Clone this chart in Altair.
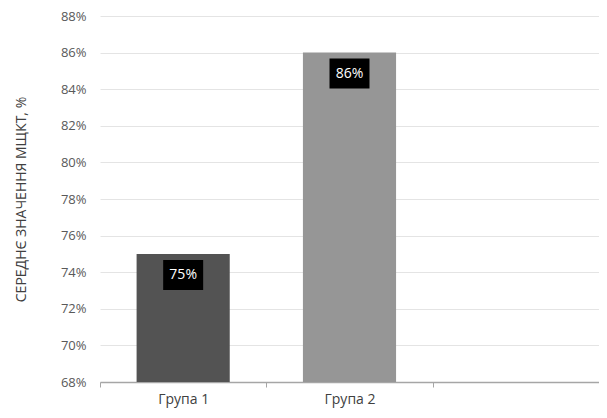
import altair as alt
import pandas as pd

groups = ["Група 1", "Група 2"]
values = [0.75, 0.86]
colors = ["#535353", "#969696"]
domain_x = ["Група 1", "Група 2", " "]
y_ticks = [0.68, 0.70, 0.72, 0.74, 0.76, 0.78, 0.80, 0.82, 0.84, 0.86, 0.88]

df = pd.DataFrame({"group": groups, "value": values, "color": colors})
df["label"] = [f"{round(v*100)}%" for v in values]

FONT = "Open Sans"

x = alt.X("group:N", scale=alt.Scale(domain=domain_x, paddingInner=0, paddingOuter=0),
          axis=alt.Axis(title=None, labelAngle=0, labelFontSize=14, labelColor="#404040",
                        labelPadding=5, tickBand="extent", tickSize=5, tickColor="#a6a6a6",
                        domainColor="#a6a6a6", domainWidth=1.5, labelFont=FONT, grid=False))
y = alt.Y("value:Q", scale=alt.Scale(domain=[0.68, 0.88], nice=False, zero=False),
          axis=alt.Axis(title="СЕРЕДНЄ ЗНАЧЕННЯ МЩКТ, %", format=".0%",
                        values=y_ticks,
                        labelFontSize=13, labelColor="#595959", labelFont=FONT,
                        titleFont=FONT, titleFontSize=14, titleFontWeight="normal",
                        titleColor="#404040", titlePadding=32, ticks=False, domain=False,
                        labelPadding=14, gridColor="#e4e4e4", gridWidth=1))

bars = alt.Chart(df).mark_bar(clip=True, width=alt.RelativeBandSize(0.56)).encode(
    x=x, y=y, y2=alt.datum(0.68), color=alt.Color("color:N", scale=None))

boxes = alt.Chart(df).mark_point(
    shape="M-1.333,-1L1.333,-1L1.333,1L-1.333,1Z", size=900, filled=True,
    color="black", opacity=1, yOffset=21).encode(x=x, y=y)

texts = alt.Chart(df).mark_text(color="white", fontSize=14, font=FONT, dy=21,
                                baseline="middle").encode(x=x, y=y, text="label:N")

chart = (bars + boxes + texts).properties(
    width=499, height=366,
    autosize=alt.AutoSizeParams(type="none"),
    padding={"left": 92, "top": 8, "right": 0, "bottom": 28},
).configure(background="white").configure_view(stroke=None)

chart.save("out.html", embed_options={"renderer": "svg", "actions": False})
